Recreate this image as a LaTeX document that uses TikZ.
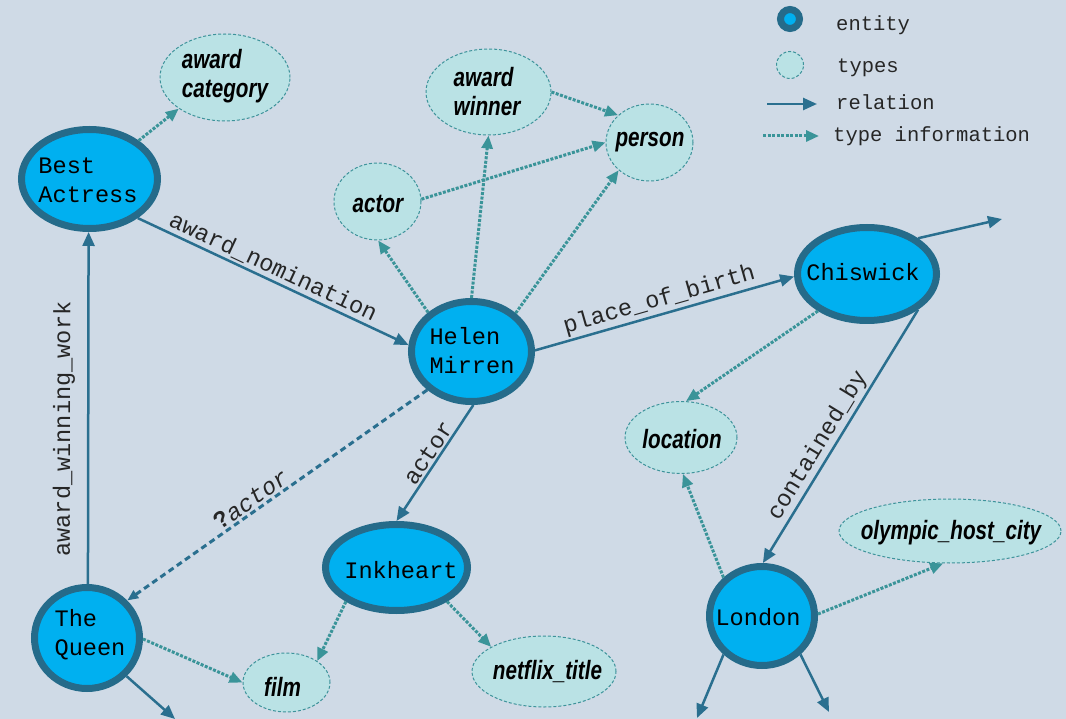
\documentclass[tikz,border=0pt]{standalone}
\usepackage{fontspec}
\setmainfont{Liberation Sans}
\newfontfamily\monofont{Liberation Mono}
\newfontfamily\typefont[FakeStretch=0.78]{Liberation Sans}
\newfontfamily\qfont{Liberation Sans}
\usetikzlibrary{shapes.geometric,arrows.meta}

\definecolor{bg}{HTML}{CFDAE6}
\definecolor{entfill}{HTML}{00B0F0}
\definecolor{entdraw}{HTML}{256B8A}
\definecolor{typfill}{HTML}{BAE2E5}
\definecolor{typdraw}{HTML}{3E939B}
\definecolor{relc}{HTML}{2A6F8F}
\definecolor{tyc}{HTML}{3A9499}

\tikzset{
 entity/.style={ellipse, draw=entdraw, fill=entfill, line width=7pt, inner sep=0pt},
 typ/.style={ellipse, draw=typdraw, fill=typfill, line width=1pt, dash pattern=on 3pt off 2pt, inner sep=0pt},
 etext/.style={font=\monofont\fontsize{23.6}{29}\selectfont, align=left, inner sep=0pt, text=black},
 ttext/.style={font=\typefont\bfseries\itshape\fontsize{26.5}{29}\selectfont, align=left, inner sep=0pt, text=black},
 rel/.style={draw=relc, line width=2.5pt, -{Triangle[length=14pt,width=12pt]}},
 tyarrow/.style={draw=tyc, line width=3pt, dash pattern=on 3pt off 1.5pt, -{Triangle[length=13pt,width=11pt]}},
 qrel/.style={draw=relc, line width=3pt, dash pattern=on 6pt off 4pt, -{Triangle[length=11pt,width=9pt]}},
 lab/.style={font=\monofont\fontsize{23.6}{29}\selectfont, text=black!85, sloped, above, inner sep=2pt},
 legtext/.style={font=\monofont\fontsize{20.5}{25}\selectfont, text=black!85, anchor=base west, inner sep=0pt},
}

\begin{document}
\begin{tikzpicture}[x=1pt,y=-1pt]
\fill[bg] (0,0) rectangle (1066,719);
\useasboundingbox (0,0) rectangle (1066,719);

% entity nodes
\node[entity, minimum width=136pt, minimum height=99pt] (ba) at (89.5,179) {};
\node[entity, minimum width=120pt, minimum height=100pt] (hm) at (471.5,351.5) {};
\node[entity, minimum width=139pt, minimum height=93pt] (ch) at (867,274) {};
\node[entity, minimum width=105pt, minimum height=99pt] (lon) at (762,616) {};
\node[entity, minimum width=142pt, minimum height=86pt] (ink) at (396.5,567.5) {};
\node[entity, minimum width=105pt, minimum height=101pt] (tq) at (87,638) {};

\node[etext] (tba) at (88,180) {Best\\Actress};
\node[etext] (thm) at (472,351) {Helen\\Mirren};
\node[etext] (tch) at (863,272) {Chiswick};
\node[etext] (tlon) at (758,617) {London};
\node[etext] (tink) at (401,570) {Inkheart};
\node[etext] (ttq) at (90,635) {The\\Queen};

% type nodes
\node[typ, minimum width=130pt, minimum height=87pt] (acat) at (225,77.5) {};
\node[typ, minimum width=125pt, minimum height=86pt] (awin) at (488.5,92) {};
\node[typ, minimum width=87pt, minimum height=77pt] (per) at (649.5,142.5) {};
\node[typ, minimum width=87pt, minimum height=77pt] (act) at (377.5,201.5) {};
\node[typ, minimum width=112pt, minimum height=72pt] (loc) at (681,437.5) {};
\node[typ, minimum width=222pt, minimum height=64pt] (oly) at (950,531) {};
\node[typ, minimum width=87pt, minimum height=59pt] (film) at (286.5,682.5) {};
\node[typ, minimum width=144pt, minimum height=71pt] (net) at (544,671.5) {};

\node[ttext] (tacat) at (225,76.5) {award\\category};
\node[ttext] (tawin) at (487,92) {award\\winner};
\node[ttext] (tper) at (650,142) {person};
\node[ttext] (tact) at (378,204) {actor};
\node[ttext] (tloc) at (682,439) {location};
\node[ttext] (toly) at (951,533) {olympic\_host\_city};
\node[ttext] (tfilm) at (282.5,687) {film};
\node[ttext] (tnet) at (547.5,672) {netflix\_title};

% relations
\draw[rel] (ba.-39) -- node[lab, pos=0.48]{award\_nomination} (hm.174);
\draw[rel] (tq.89) -- node[lab, pos=0.44, above=10pt]{award\_winning\_work} (ba.-91);
\draw[rel] (hm.1) -- node[lab, pos=0.495]{place\_of\_birth} (ch.182);
\draw[rel] (hm.-88) -- node[lab, pos=0.466]{actor} (ink.90);
\draw[rel] (ch.-35) -- node[lab, pos=0.567]{contained\_by} (lon.89);
\coordinate (chout) at (1002,219);
\draw[rel] (ch.35) -- (chout);
\coordinate (tqout) at (175,719);
\draw[rel] (tq.-44) -- (tqout);
\coordinate (lonout1) at (697,718);
\coordinate (lonout2) at (829,712);
\draw[rel] (lon.-135) -- (lonout1);
\draw[rel] (lon.-45) -- (lonout2);
\draw[qrel] (hm.-139) -- node[lab, pos=0.566]{{\qfont\bfseries ?}\itshape actor} (tq.43.5);

% type information
\draw[tyarrow] (ba.38) -- (acat.214);
\draw[tyarrow] (hm.138) -- (act.-89);
\draw[tyarrow] (hm.90) -- (awin.-90);
\draw[tyarrow] (hm.41) -- (per.222);
\draw[tyarrow] (act.3) -- (per.180);
\draw[tyarrow] (awin.0) -- (per.139);
\draw[tyarrow] (ch.217) -- (loc.82);
\draw[tyarrow] (lon.135) -- (loc.-87);
\draw[tyarrow] (lon.2) -- (oly.-102);
\draw[tyarrow] (ink.214) -- (film.35);
\draw[tyarrow] (ink.-34) -- (net.155);
\draw[tyarrow] (tq.-1) -- (film.180);

% legend
\node[circle, draw=entdraw, fill=entfill, line width=7pt, minimum size=19pt, inner sep=0pt] (lent) at (790,19) {};
\node[circle, draw=typdraw, fill=typfill, line width=1pt, dash pattern=on 3pt off 2pt, minimum size=27pt, inner sep=0pt] (ltyp) at (790,65) {};
\coordinate (lr1) at (767,104);
\coordinate (lr2) at (817,104);
\draw[rel] (lr1) -- (lr2);
\coordinate (lt1) at (763,136);
\coordinate (lt2) at (819,136);
\draw[tyarrow] (lt1) -- (lt2);
\node[legtext] (lgent) at (836,31) {entity};
\node[legtext] (lgtyp) at (837,73) {types};
\node[legtext] (lgrel) at (836,110) {relation};
\node[legtext] (lgti) at (833,142) {type information};
\end{tikzpicture}
\end{document}
